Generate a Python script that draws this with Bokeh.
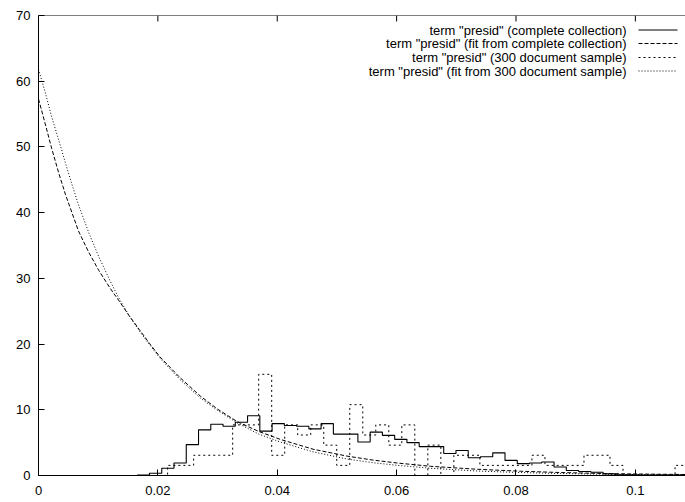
from bokeh.plotting import figure
from bokeh.models import Range1d, LinearAxis, FixedTicker, Label, Arrow, Span
from bokeh.embed import file_html
from bokeh.resources import INLINE

# ---- data ----
complete_start = 0.01654
complete_width = 0.002054
complete_counts = [0.05, 0.35, 1.1, 1.9, 4.7, 6.95, 7.8, 7.5, 8.1, 9.1,
                   6.75, 7.9, 7.6, 7.5, 7.1, 7.9, 6.3, 6.3, 5.1, 6.6,
                   6.1, 5.5, 5.0, 4.4, 4.4, 3.35, 3.8, 2.7, 2.85, 3.45,
                   2.3, 1.8, 1.9, 2.05, 1.3, 0.75, 0.6, 0.5, 0.25, 0.12,
                   0.1, 0.08, 0.05, 0.05, 0.05]

sample_start = 0.02163
sample_width = 0.00218
sample_counts = [1.54, 1.54, 3.08, 3.08, 3.08, 7.7, 7.7, 15.4, 3.08, 7.7,
                 6.16, 7.7, 4.62, 1.54, 10.78, 6.16, 7.7, 4.62, 7.7, 0.0,
                 4.62, 0.0, 3.08, 3.08, 1.54, 1.54, 1.54, 1.54, 3.08, 1.54,
                 1.54, 1.54, 3.08, 3.08, 1.54, 0.0, 0.0, 0.0, 0.0, 1.54]

fit_complete_x = [0.0, 0.0011, 0.0022, 0.0034, 0.0045, 0.0056, 0.0067, 0.0084,
                  0.0101, 0.012, 0.0134, 0.0152, 0.0169, 0.0186, 0.0203, 0.0237,
                  0.0271, 0.03, 0.0333, 0.0369, 0.0405, 0.046, 0.0517, 0.056,
                  0.0601, 0.0657, 0.0735, 0.0808, 0.0875, 0.095, 0.1, 0.1084]
fit_complete_y = [57.3, 53.6, 49.8, 46.0, 42.8, 40.0, 37.2, 34.0,
                  31.2, 28.5, 26.7, 24.3, 22.2, 20.1, 18.1, 14.9,
                  12.1, 10.1, 8.2, 6.7, 5.5, 4.0, 2.95, 2.35,
                  1.9, 1.4, 0.95, 0.65, 0.45, 0.3, 0.23, 0.15]

fit_sample_x = [0.0, 0.0011, 0.0022, 0.0034, 0.0045, 0.0056, 0.0067, 0.0084,
                0.0101, 0.012, 0.0134, 0.0152, 0.0169, 0.0186, 0.0203, 0.0237,
                0.0271, 0.03, 0.0333, 0.0369, 0.0405, 0.046, 0.0517, 0.056,
                0.0601, 0.0657, 0.0735, 0.0808, 0.0875, 0.095, 0.1, 0.1084]
fit_sample_y = [61.8, 58.4, 54.6, 51.0, 47.6, 44.3, 41.2, 37.0,
                33.3, 29.6, 27.1, 24.3, 22.0, 19.9, 17.9, 14.6,
                11.8, 9.9, 8.0, 6.3, 5.1, 3.6, 2.5, 1.95,
                1.55, 1.1, 0.68, 0.45, 0.3, 0.2, 0.14, 0.09]

x_ticks = [0, 0.02, 0.04, 0.06, 0.08, 0.1]
x_tick_labels = ["0", "0.02", "0.04", "0.06", "0.08", "0.1"]
y_ticks = [0, 10, 20, 30, 40, 50, 60, 70]

legend_labels = ['term "presid" (complete collection)',
                 'term "presid" (fit from complete collection)',
                 'term "presid" (300 document sample)',
                 'term "presid" (fit from 300 document sample)']

FONT = "Liberation Sans"
Y_MAX = 70
FRAME_H = 460          # 502 - 15 (top) - 27 (bottom)
TICK_PX = 6

p = figure(width=685, height=502, output_backend="svg", toolbar_location=None,
           x_range=Range1d(0, 0.1084), y_range=Range1d(0, Y_MAX),
           x_axis_location=None, y_axis_location=None,
           min_border_left=38, min_border_right=0, min_border_top=15,
           min_border_bottom=27)
p.outline_line_color = None
p.xgrid.visible = False
p.ygrid.visible = False
p.background_fill_color = "white"
p.border_fill_color = "white"


def style_axis(ax):
    ax.major_tick_in = TICK_PX
    ax.major_tick_out = 0
    ax.minor_tick_in = 0
    ax.minor_tick_out = 0
    ax.axis_line_color = "black"
    ax.major_tick_line_color = "black"
    ax.major_label_text_font = FONT
    ax.major_label_text_font_size = "13px"
    ax.major_label_text_color = "black"


xb = LinearAxis(ticker=FixedTicker(ticks=x_ticks),
                major_label_overrides={t: l for t, l in zip(x_ticks, x_tick_labels)})
style_axis(xb)
xb.major_label_standoff = 10
p.add_layout(xb, "below")

yl = LinearAxis(ticker=FixedTicker(ticks=y_ticks))
style_axis(yl)
yl.major_label_standoff = 8
p.add_layout(yl, "left")

# top border with mirrored ticks (gnuplot style)
p.add_layout(Span(location=Y_MAX, dimension="width", line_color="black", line_width=1))
tick_len = TICK_PX * Y_MAX / FRAME_H
p.segment(x0=x_ticks, y0=[Y_MAX] * len(x_ticks), x1=x_ticks,
          y1=[Y_MAX - tick_len] * len(x_ticks), line_color="black", line_width=1)


def hist_steps(start, width, counts):
    xs = [0.0] + [start + i * width for i in range(len(counts))] + [start + len(counts) * width]
    ys = [0.0] + list(counts) + [counts[-1]]
    return xs, ys


cx, cy = hist_steps(complete_start, complete_width, complete_counts)
sx, sy = hist_steps(sample_start, sample_width, sample_counts)

styles = [dict(line_dash="solid"), dict(line_dash="4 2"),
          dict(line_dash="2 3"), dict(line_dash="1 2")]

p.step(cx, cy, mode="after", line_color="black", line_width=1.1, **styles[0])
p.line(fit_complete_x, fit_complete_y, line_color="black", line_width=1, **styles[1])
p.step(sx, sy, mode="after", line_color="black", line_width=1, **styles[2])
p.line(fit_sample_x, fit_sample_y, line_color="black", line_width=1, **styles[3])

# gnuplot-style legend: right-aligned text, sample line on the right
row_y = [445.5, 432, 418, 404.5]
for lab, yy, st in zip(legend_labels, row_y, styles):
    p.add_layout(Label(x=588, y=yy, x_units="screen", y_units="screen", text=lab,
                       text_align="right", text_baseline="middle",
                       text_font=FONT, text_font_size="13px", text_color="black"))
    p.add_layout(Arrow(end=None, x_start=600, y_start=yy, x_end=639, y_end=yy,
                       start_units="screen", end_units="screen",
                       line_color="black", line_width=1, **st))

open("out.html", "w").write(file_html(p, INLINE))
